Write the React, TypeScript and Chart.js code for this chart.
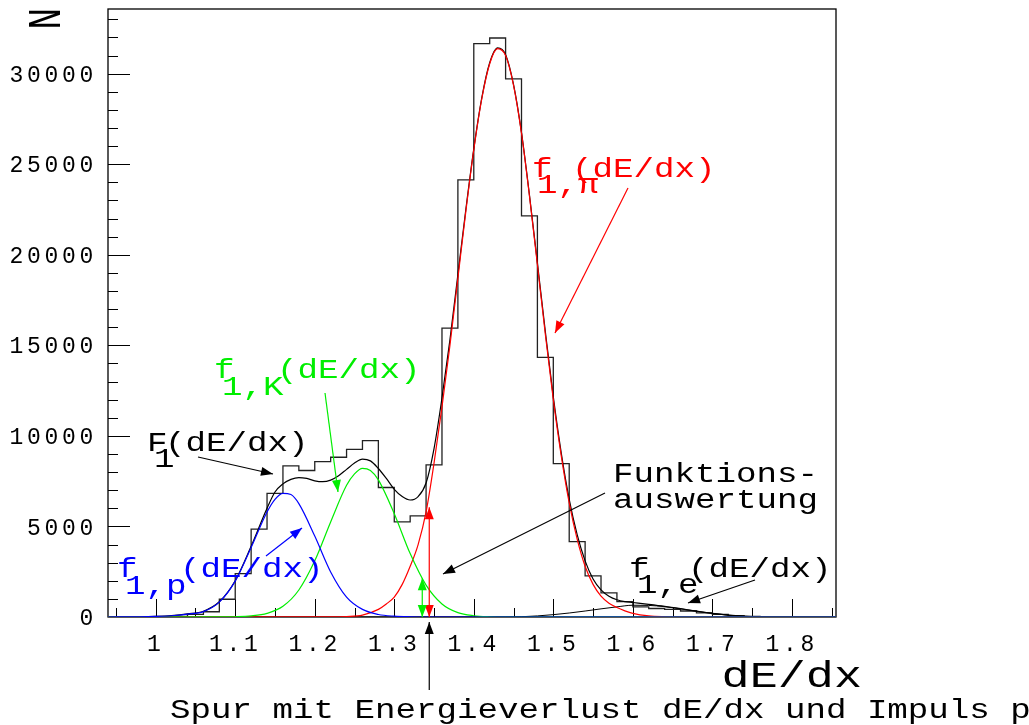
import React, { useEffect, useRef } from "react";
import { Chart, registerables } from "chart.js";

Chart.register(...registerables);

// ---------- data ----------
const histBinWidth = 0.02;
const histBinLeft = [
  0.94, 0.96, 0.98, 1.0, 1.02, 1.04, 1.06, 1.08, 1.1, 1.12, 1.14, 1.16, 1.18, 1.2, 1.22, 1.24,
  1.26, 1.28, 1.3, 1.32, 1.34, 1.36, 1.38, 1.4, 1.42, 1.44, 1.46, 1.48, 1.5, 1.52, 1.54, 1.56,
  1.58, 1.6, 1.62, 1.64, 1.66, 1.68, 1.7, 1.72, 1.74, 1.76, 1.78, 1.8, 1.82, 1.84,
];
const histCounts = [
  0, 0, 0, 20, 40, 150, 290, 980, 2400, 4850, 6830, 8340, 8090, 8580, 8820, 9260,
  9740, 7150, 5250, 5580, 8400, 15950, 24140, 31660, 31970, 29710, 22150, 14330, 8470, 4160, 2270, 1330,
  845, 555, 470, 420, 330, 230, 140, 70, 30, 10, 0, 0, 0, 0,
];

const protonX = [0.94, 0.98, 1.0, 1.02, 1.04, 1.06, 1.08, 1.1, 1.12, 1.14, 1.15, 1.16, 1.17, 1.18, 1.2, 1.22, 1.24, 1.26, 1.28, 1.3, 1.32, 1.34, 1.8555];
const protonY = [0, 10, 30, 70, 160, 300, 820, 1980, 3840, 5800, 6500, 6830, 6760, 6260, 4470, 2490, 1100, 420, 140, 45, 12, 0, 0];

const kaonX = [0.94, 1.08, 1.1, 1.12, 1.14, 1.16, 1.18, 1.2, 1.22, 1.24, 1.25, 1.26, 1.27, 1.28, 1.3, 1.32, 1.34, 1.36, 1.38, 1.4, 1.42, 1.44, 1.8555];
const kaonY = [0, 5, 15, 60, 200, 590, 1490, 3100, 5250, 7270, 7900, 8210, 8090, 7570, 5700, 3500, 1760, 720, 240, 70, 15, 0, 0];

const pionX = [0.94, 1.22, 1.24, 1.26, 1.28, 1.29, 1.3, 1.31, 1.32, 1.33, 1.34, 1.35, 1.36, 1.37, 1.38, 1.39, 1.4, 1.41, 1.42, 1.43, 1.44, 1.45, 1.46, 1.47, 1.48, 1.49, 1.5, 1.51, 1.52, 1.53, 1.54, 1.55, 1.56, 1.57, 1.58, 1.59, 1.6, 1.62, 1.64, 1.66, 1.8555];
const pionY = [0, 5, 26, 106, 420, 720, 1100, 1800, 2800, 4000, 5800, 8500, 11600, 15000, 18700, 22400, 25800, 28600, 30550, 31380, 31000, 29350, 26700, 23250, 19450, 15600, 12000, 8900, 6300, 4300, 2800, 1800, 1150, 760, 520, 340, 200, 60, 15, 0, 0];

const electronX = [0.94, 1.44, 1.46, 1.48, 1.5, 1.52, 1.54, 1.56, 1.58, 1.6, 1.62, 1.64, 1.66, 1.68, 1.7, 1.72, 1.74, 1.76, 1.78, 1.8555];
const electronY = [0, 0, 15, 60, 130, 220, 330, 450, 560, 650, 640, 570, 450, 320, 200, 100, 40, 10, 0, 0];

const totalX = [0.94, 0.98, 1.0, 1.02, 1.04, 1.06, 1.08, 1.1, 1.12, 1.14, 1.15, 1.16, 1.17, 1.18, 1.19, 1.2, 1.21, 1.22, 1.23, 1.24, 1.25, 1.26, 1.27, 1.28, 1.29, 1.3, 1.31, 1.32, 1.33, 1.34, 1.35, 1.36, 1.37, 1.38, 1.39, 1.4, 1.41, 1.42, 1.43, 1.44, 1.45, 1.46, 1.47, 1.48, 1.49, 1.5, 1.51, 1.52, 1.53, 1.54, 1.55, 1.56, 1.57, 1.58, 1.59, 1.6, 1.62, 1.64, 1.66, 1.68, 1.7, 1.72, 1.74, 1.76, 1.78, 1.8555];
const totalY = [0, 10, 30, 75, 170, 320, 840, 2000, 3900, 6000, 6900, 7350, 7600, 7700, 7650, 7520, 7470, 7560, 7800, 8150, 8500, 8720, 8620, 8200, 7650, 7050, 6650, 6460, 6650, 7400, 9300, 12100, 15300, 18900, 22500, 25850, 28650, 30600, 31420, 31050, 29400, 26750, 23300, 19550, 15750, 12150, 9050, 6500, 4550, 3100, 2100, 1500, 1150, 950, 850, 800, 700, 590, 460, 320, 200, 100, 40, 10, 0, 0];

const xTickValues = [1, 1.1, 1.2, 1.3, 1.4, 1.5, 1.6, 1.7, 1.8];
const yTickValues = [0, 5000, 10000, 15000, 20000, 25000, 30000];

const xMin = 0.94;
const xMax = 1.8555;
const yMax = 33570;
const yMinorStep = 1000;
const yMajorStep = 5000;

const trackDeDx = 1.344;
const trackPionValue = 6060;
const trackKaonValue = 2140;

// ---------- styling ----------
const FONT = '"Liberation Mono", "Courier New", monospace';
const SX = 1.265;
const BLUE = "#0000ff";
const GREEN = "#00ee00";
const RED = "#ff0000";
const BLACK = "#000000";

const pts = (xs: number[], ys: number[]) => xs.map((x, i) => ({ x, y: ys[i] }));

function text(ctx: CanvasRenderingContext2D, s: string, x: number, y: number, size: number, color: string, align: CanvasTextAlign = "left") {
  ctx.save();
  ctx.letterSpacing = "0px";
  ctx.font = `${size}px ${FONT}`;
  ctx.fillStyle = color;
  ctx.textBaseline = "alphabetic";
  ctx.textAlign = align;
  ctx.translate(x, y);
  ctx.scale(SX, 1);
  ctx.fillText(s, 0, 0);
  ctx.restore();
}

function head(ctx: CanvasRenderingContext2D, x1: number, y1: number, x2: number, y2: number, len = 12, w = 4.5) {
  const a = Math.atan2(y2 - y1, x2 - x1);
  ctx.beginPath();
  ctx.moveTo(x2, y2);
  ctx.lineTo(x2 - len * Math.cos(a) + w * Math.sin(a), y2 - len * Math.sin(a) - w * Math.cos(a));
  ctx.lineTo(x2 - len * Math.cos(a) - w * Math.sin(a), y2 - len * Math.sin(a) + w * Math.cos(a));
  ctx.closePath();
  ctx.fill();
}

function arrow(ctx: CanvasRenderingContext2D, x1: number, y1: number, x2: number, y2: number, color: string, both = false) {
  ctx.save();
  ctx.strokeStyle = color;
  ctx.fillStyle = color;
  ctx.lineWidth = 1.2;
  ctx.beginPath();
  ctx.moveTo(x1, y1);
  ctx.lineTo(x2, y2);
  ctx.stroke();
  head(ctx, x1, y1, x2, y2);
  if (both) head(ctx, x2, y2, x1, y1);
  ctx.restore();
}

const letterSpacingPlugin = {
  id: "letterSpacing",
  beforeDraw(chart: any) {
    chart.ctx.letterSpacing = "3.7px";
  },
};

const frameTicksPlugin = {
  id: "frameTicks",
  beforeDatasetsDraw(chart: any) {
    const { ctx, chartArea: a, scales } = chart;
    const xs = scales.x;
    const ys = scales.y;
    ctx.save();
    ctx.strokeStyle = BLACK;
    ctx.lineWidth = 1.3;
    ctx.strokeRect(a.left, a.top, a.right - a.left, a.bottom - a.top);
    ctx.lineWidth = 1;
    ctx.beginPath();
    for (let v = yMinorStep; v <= yMax; v += yMinorStep) {
      const py = Math.round(ys.getPixelForValue(v)) + 0.5;
      const len = v % yMajorStep === 0 ? 22 : 10;
      ctx.moveTo(a.left, py);
      ctx.lineTo(a.left + len, py);
    }
    for (let k = 19; k <= 37; k++) {
      const px = Math.round(xs.getPixelForValue(k * 0.05)) + 0.5;
      const len = k % 2 === 0 ? 18 : 9;
      ctx.moveTo(px, a.bottom);
      ctx.lineTo(px, a.bottom - len);
    }
    ctx.stroke();
    ctx.restore();
  },
};

const annotationPlugin = {
  id: "annotations",
  afterDatasetsDraw(chart: any) {
    const { ctx, chartArea: a, scales } = chart;
    const xs = scales.x;
    const ys = scales.y;
    ctx.save();
    ctx.letterSpacing = "0px";

    // axis titles
    text(ctx, "dE/dx", 862, 687, 37, BLACK, "right");
    ctx.save();
    ctx.font = `36px ${FONT}`;
    ctx.fillStyle = BLACK;
    ctx.translate(60, 8);
    ctx.rotate(-Math.PI / 2);
    ctx.scale(1, SX);
    ctx.textAlign = "right";
    ctx.textBaseline = "alphabetic";
    ctx.fillText("N", 0, 0);
    ctx.restore();

    // function labels
    text(ctx, "F", 147, 451, 27, BLACK);
    text(ctx, "1", 154, 467, 27, BLACK);
    text(ctx, "(dE/dx)", 165, 451, 27, BLACK);

    text(ctx, "f", 214, 378, 27, GREEN);
    text(ctx, "1,K", 222, 395, 27, GREEN);
    text(ctx, "(dE/dx)", 277, 378, 27, GREEN);

    text(ctx, "f", 117, 577, 27, BLUE);
    text(ctx, "1,p", 125, 594, 27, BLUE);
    text(ctx, "(dE/dx)", 180, 577, 27, BLUE);

    text(ctx, "f", 532, 177, 27, RED);
    text(ctx, "1,π", 537, 193, 27, RED);
    text(ctx, "(dE/dx)", 572, 177, 27, RED);

    text(ctx, "f", 629, 577, 27, BLACK);
    text(ctx, "1,e", 637, 593, 27, BLACK);
    text(ctx, "(dE/dx)", 688, 577, 27, BLACK);

    text(ctx, "Funktions-", 613, 482, 27, BLACK);
    text(ctx, "auswertung", 613, 508, 27, BLACK);

    text(ctx, "Spur mit Energieverlust dE/dx und Impuls p", 170, 718, 27, BLACK);

    // pointer arrows
    arrow(ctx, 198, 457, 273, 474, BLACK);
    arrow(ctx, 325, 393, 338, 492, GREEN);
    arrow(ctx, 266, 556, 302, 528, BLUE);
    arrow(ctx, 628, 188, 555, 333, RED);
    arrow(ctx, 605, 493, 443, 574, BLACK);
    arrow(ctx, 755, 580, 688, 603, BLACK);

    // track: function values at the measured dE/dx
    const tx = xs.getPixelForValue(trackDeDx);
    const base = ys.getPixelForValue(0);
    arrow(ctx, tx, base, tx, ys.getPixelForValue(trackPionValue), RED, true);
    arrow(ctx, tx - 7, base, tx - 7, ys.getPixelForValue(trackKaonValue), GREEN, true);
    arrow(ctx, tx, 690, tx, a.bottom + 5, BLACK);

    ctx.restore();
  },
};

const zeroPadding = (s: any) => {
  s.paddingTop = 0;
  s.paddingBottom = 0;
  s.paddingLeft = 0;
  s.paddingRight = 0;
};

export default function App() {
  const ref = useRef<HTMLCanvasElement | null>(null);

  useEffect(() => {
    if (!ref.current) return;
    const histData = pts(histBinLeft, histCounts);
    histData.push({
      x: histBinLeft[histBinLeft.length - 1] + histBinWidth,
      y: histCounts[histCounts.length - 1],
    });

    const curve = (label: string, xs: number[], ys: number[], color: string, width = 1.2) => ({
      label,
      data: pts(xs, ys),
      borderColor: color,
      borderWidth: width,
      pointRadius: 0,
      fill: false,
      cubicInterpolationMode: "monotone" as const,
    });

    const chart = new Chart(ref.current, {
      type: "line",
      data: {
        datasets: [
          curve("f1,p", protonX, protonY, BLUE),
          curve("f1,K", kaonX, kaonY, GREEN),
          curve("f1,pi", pionX, pionY, RED),
          curve("F1", totalX, totalY, BLACK),
          curve("f1,e", electronX, electronY, BLACK, 1),
          {
            label: "N",
            data: histData,
            borderColor: "#222222",
            borderWidth: 1.3,
            pointRadius: 0,
            fill: false,
            stepped: "before" as const,
          },
        ],
      },
      options: {
        animation: false,
        responsive: false,
        devicePixelRatio: 1,
        events: [],
        layout: { padding: { top: 9, right: 193, left: 0, bottom: 0 } },
        plugins: { legend: { display: false }, tooltip: { enabled: false } },
        scales: {
          x: {
            type: "linear",
            min: xMin,
            max: xMax,
            afterBuildTicks: (s: any) => {
              s.ticks = xTickValues.map((v) => ({ value: v }));
            },
            afterFit: (s: any) => {
              s.height = 108;
              zeroPadding(s);
            },
            grid: { display: false, drawTicks: false },
            border: { display: false },
            ticks: {
              autoSkip: false,
              maxRotation: 0,
              padding: 14,
              color: BLACK,
              font: { family: FONT, size: 23 },
              callback: (v: any) => String(v),
            },
          },
          y: {
            type: "linear",
            min: 0,
            max: yMax,
            afterBuildTicks: (s: any) => {
              s.ticks = yTickValues.map((v) => ({ value: v }));
            },
            afterFit: (s: any) => {
              s.width = 108;
              zeroPadding(s);
            },
            grid: { display: false, drawTicks: false },
            border: { display: false },
            ticks: {
              padding: 11,
              labelOffset: 2,
              color: BLACK,
              font: { family: FONT, size: 23 },
              callback: (v: any) => String(v),
            },
          },
        },
      },
      plugins: [letterSpacingPlugin, frameTicksPlugin, annotationPlugin],
    });
    return () => chart.destroy();
  }, []);

  return (
    <div style={{ position: "absolute", left: 0, top: 0, width: 1029, height: 725, background: "#fff" }}>
      <canvas ref={ref} width={1029} height={725} style={{ display: "block" }} />
    </div>
  );
}
